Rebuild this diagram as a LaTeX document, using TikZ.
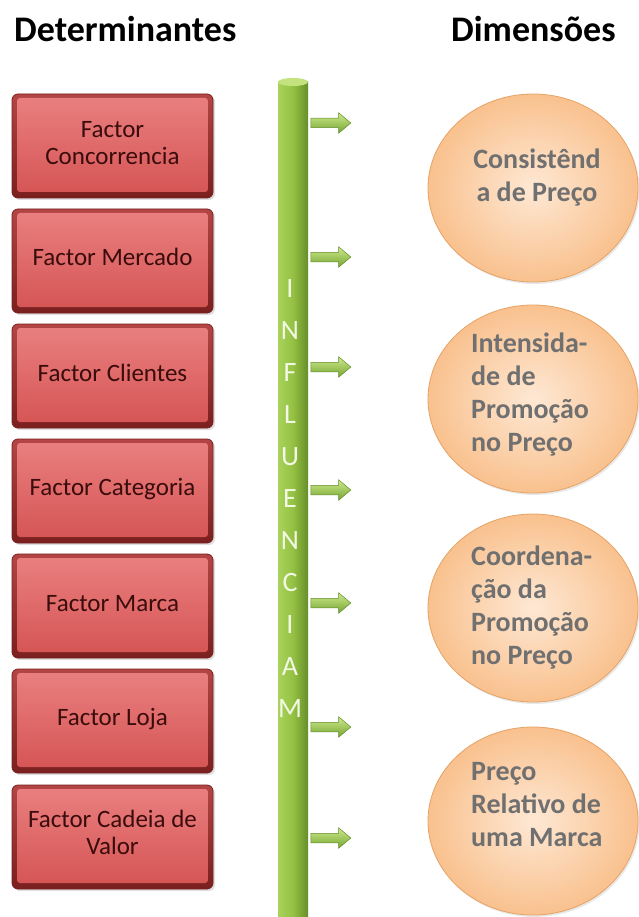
\documentclass[tikz,border=0pt]{standalone}
\usepackage{fontspec}
\setmainfont{Carlito}
\usetikzlibrary{shadows,shapes.geometric,shapes.arrows}
\definecolor{rimtop}{HTML}{B44545}
\definecolor{rimbot}{HTML}{7A1F1F}
\definecolor{facetop}{HTML}{EA8080}
\definecolor{facebot}{HTML}{D55353}
\definecolor{boxtext}{HTML}{3A0C0C}
\definecolor{barL}{HTML}{A9D25C}
\definecolor{barM}{HTML}{94C143}
\definecolor{barR}{HTML}{668F2A}
\definecolor{bartop}{HTML}{C4E27E}
\definecolor{letter}{HTML}{F2F8E4}
\definecolor{arrtop}{HTML}{CFEA8C}
\definecolor{arrbot}{HTML}{74A532}
\definecolor{arredge}{HTML}{628C2A}
\definecolor{ellin}{HTML}{FEE8D4}
\definecolor{ellout}{HTML}{F9C18E}
\definecolor{elledge}{HTML}{E6A366}
\definecolor{elltext}{HTML}{707070}
\begin{document}
\begin{tikzpicture}[x=1pt,y=-1pt,
  title/.style={font=\fontsize{36}{39}\selectfont\bfseries, text=black, inner sep=0pt, anchor=base west},
  factorbox/.style={rectangle, rounded corners=6pt, minimum width=201pt, minimum height=104pt,
    top color=rimtop, bottom color=rimbot, draw=rimbot, line width=0.8pt,
    drop shadow={opacity=0.25, shadow xshift=2pt, shadow yshift=-2pt},
    path picture={\shade[top color=facetop, bottom color=facebot, rounded corners=3pt]
      ([shift={(5pt,6pt)}]path picture bounding box.south west) rectangle
      ([shift={(-5pt,-4pt)}]path picture bounding box.north east);}},
  boxlabel/.style={font=\fontsize{25}{27}\selectfont, text=boxtext, align=center, inner sep=0pt},
  dimension/.style={ellipse, minimum width=210pt, minimum height=188pt, inner color=ellin, outer color=ellout,
    draw=elledge, line width=0.8pt, drop shadow={opacity=0.18, shadow xshift=1.5pt, shadow yshift=-2pt}},
  dimlabel/.style={font=\fontsize{28}{33}\selectfont\bfseries, text=elltext, inner sep=0pt},
  barletter/.style={font=\fontsize{28}{30}\selectfont, text=letter, inner sep=0pt},
  influence/.style={single arrow, minimum height=40pt, minimum width=20pt, inner sep=4.5pt,
    single arrow head extend=5.5pt, single arrow tip angle=80, top color=arrtop, bottom color=arrbot,
    draw=arredge, line width=0.5pt}
]
\useasboundingbox (0,0) rectangle (638,917);
\fill[white] (0,0) rectangle (638,917);

% titles
\node[title] (tdet) at (14,42) {Determinantes};
\node[title] (tdim) at (451,42) {Dimensões};

% factor boxes
\foreach \i/\y in {1/146, 2/261, 3/376, 4/491, 5/606, 6/721, 7/837} {
  \node[factorbox] (f\i) at (112.5,\y) {};
}
\node[boxlabel] (l1) at (112.5,143) {Factor\\Concorrencia};
\node[boxlabel] (l2) at (112.5,257) {Factor Mercado};
\node[boxlabel] (l3) at (112.5,373) {Factor Clientes};
\node[boxlabel] (l4) at (112.5,489) {Factor Categoria};
\node[boxlabel] (l5) at (112.5,604) {Factor Marca};
\node[boxlabel] (l6) at (112.5,719) {Factor Loja};
\node[boxlabel] (l7) at (112.5,832) {Factor Cadeia de\\Valor};

% green bar
\shade[left color=barL, right color=barR, middle color=barM] (278,82) rectangle (308,917);
\fill[bartop] (293,82) ellipse [x radius=15pt, y radius=4pt];
\foreach \k/\c in {0/I,1/N,2/F,3/L,4/U,5/E,6/N,7/C,8/I,9/A,10/M} {
  \node[barletter] (b\k) at (290,{289+42*\k}) {\c};
}

% arrows
\foreach \i/\y in {1/123, 2/257, 3/367, 4/490, 5/603, 6/727, 7/838} {
  \node[influence] (a\i) at (328,\y) {};
}

% dimension ellipses
\node[dimension] (d1) at (533,188) {};
\node[dimension] (d2) at (533,399) {};
\node[dimension] (d3) at (533,608) {};
\node[dimension] (d4) at (533,821) {};

\node[dimlabel, align=center] (t1) at (537,178) {Consistênd\\a de Preço};
\node[dimlabel, align=left, anchor=west] (t2) at (471,395) {Intensida-\\de de\\Promoção\\no Preço};
\node[dimlabel, align=left, anchor=west] (t3) at (471,608) {Coordena-\\ção da\\Promoção\\no Preço};
\node[dimlabel, align=left, anchor=west] (t4) at (471,805) {Preço\\Relativo de\\uma Marca};
\end{tikzpicture}
\end{document}
